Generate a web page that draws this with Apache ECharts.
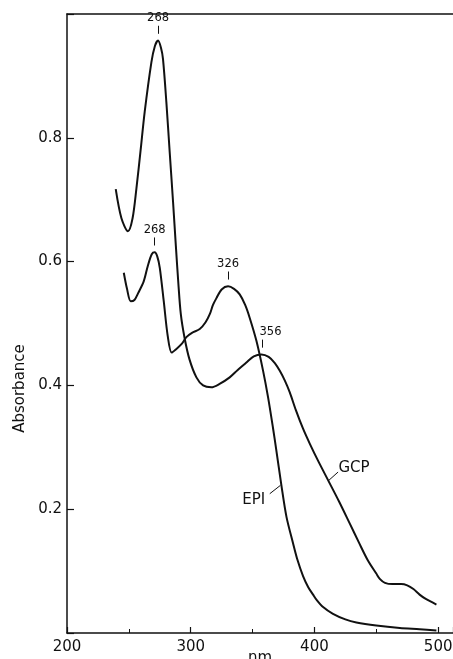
<!DOCTYPE html>
<html>
<head>
<meta charset="utf-8">
<script src="https://cdn.jsdelivr.net/npm/echarts@6/dist/echarts.min.js"></script>
<style>
html,body{margin:0;padding:0;background:#fff;}
#c{width:453px;height:659px;}
</style>
</head>
<body>
<div id="c"></div>
<script>
// wavelength (nm), absorbance
var gcpData = [
  [239.4,0.717],[244,0.670],[249.3,0.649],[253,0.670],[256.1,0.718],[259.5,0.780],
  [262.8,0.842],[268.2,0.922],[271,0.948],[273.6,0.957],[276,0.945],[277.6,0.927],
  [280.3,0.858],[283,0.777],[285.7,0.697],[288,0.625],[290,0.565],[292,0.515],
  [295,0.477],[299,0.442],[304.6,0.413],[310,0.400],[316.7,0.397],[323,0.402],
  [331.5,0.413],[338,0.425],[345,0.437],[351,0.447],[357.2,0.450],[363,0.446],
  [368,0.436],[372,0.4235],[376,0.408],[380,0.389],[385,0.360],[390.8,0.330],
  [396.2,0.306],[403,0.278],[411,0.247],[420,0.212],[428.5,0.177],[436,0.146],
  [443,0.118],[450,0.096],[453,0.087],[457,0.081],[463,0.079],[470,0.079],
  [475,0.077],[480,0.071],[485,0.062],[490,0.055],[498.6,0.046]
];
var epiData = [
  [245.9,0.582],[248.5,0.556],[251.5,0.536],[254.5,0.538],[257.5,0.549],[262,0.568],
  [265.3,0.593],[268.5,0.612],[270.9,0.615],[273,0.608],[275,0.590],[278.2,0.536],
  [281.4,0.480],[284.6,0.453],[287.9,0.458],[292.7,0.467],[296.5,0.478],[301,0.485],
  [307.3,0.491],[312,0.502],[315.4,0.515],[318,0.530],[320.8,0.541],[325,0.555],
  [330.2,0.560],[335,0.556],[339.6,0.547],[344,0.530],[347.7,0.509],[353.1,0.472],
  [358.5,0.4235],[362.5,0.381],[366.6,0.330],[369,0.298],[373.3,0.2385],[377.4,0.1876],
  [382.7,0.145],[386,0.120],[390.8,0.092],[395,0.074],[398.9,0.062],[401.6,0.054],
  [407,0.042],[415,0.031],[425,0.022],[433.9,0.017],[450,0.012],[469,0.008],
  [485,0.006],[498.6,0.004]
];
var yTickLabels = ['0.2','0.4','0.6','0.8'];
// peak annotations: [x, peak absorbance, label, label x]
var gcpPeaks = [[273.6,0.957,'268',273.6],[358,0.450,'356',364.5]];
var epiPeaks = [[270.9,0.615,'268',270.9],[330.2,0.560,'326',330.2]];

function peakLines(peaks){
  return peaks.map(function(p){
    return [{coord:[p[0],p[1]+0.011],symbol:'none'},{coord:[p[0],p[1]+0.024],symbol:'none'}];
  });
}
function peakTexts(peaks){
  return peaks.map(function(p){
    return {coord:[p[3],p[1]+0.036],value:p[2]};
  });
}
var ink = '#111';
var chart = echarts.init(document.getElementById('c'), null, {renderer:'canvas'});
var lineStyle = {color:ink,width:2};
chart.setOption({
  backgroundColor:'#fff',
  animation:false,
  grid:{left:67,right:0,top:14,bottom:26,containLabel:false,outerBoundsMode:'none'},
  xAxis:[{
    type:'value',min:200,max:512,interval:100,
    name:'nm',nameLocation:'middle',nameGap:18,nameMoveOverlap:false,
    nameTextStyle:{fontFamily:'DejaVu Sans',fontSize:15,color:ink,verticalAlign:'top'},
    axisLine:{show:true,lineStyle:{color:ink,width:1.5}},
    axisTick:{show:true,inside:true,length:6,lineStyle:{color:ink,width:1.2}},
    minorTick:{show:true,splitNumber:2,length:4,lineStyle:{color:ink,width:1}},
    axisLabel:{fontFamily:'DejaVu Sans',fontSize:15,color:ink,margin:7,
      formatter:function(v){return (v%100===0)?String(v):'';}},
    splitLine:{show:false}
  },{
    type:'value',position:'top',min:200,max:512,
    axisLine:{show:true,lineStyle:{color:ink,width:1.5}},
    axisTick:{show:false},axisLabel:{show:false},splitLine:{show:false}
  }],
  yAxis:{
    type:'value',min:0,max:1.0,interval:0.2,
    name:'Absorbance',nameLocation:'middle',nameGap:32,nameRotate:90,
    nameTextStyle:{fontFamily:'DejaVu Sans',fontSize:15,color:ink,padding:[0,130,0,0]},
    axisLine:{show:true,lineStyle:{color:ink,width:1.5}},
    axisTick:{show:true,inside:true,length:7,lineStyle:{color:ink,width:1.2}},
    axisLabel:{fontFamily:'DejaVu Sans',fontSize:15,color:ink,margin:5,
      formatter:function(v){var s=v.toFixed(1);return yTickLabels.indexOf(s)>=0?s:'';}},
    splitLine:{show:false}
  },
  series:[{
    name:'GCP',type:'line',data:gcpData,smooth:0.3,symbol:'none',lineStyle:lineStyle,
    markLine:{silent:true,symbol:'none',label:{show:false},lineStyle:{color:ink,width:1,type:'solid'},
      data:peakLines(gcpPeaks).concat([[{coord:[419.1,0.260],symbol:'none'},{coord:[411,0.2455],symbol:'none'}]])},
    markPoint:{silent:true,symbol:'rect',symbolSize:1,itemStyle:{color:'rgba(0,0,0,0)'},
      label:{show:true,position:'inside',color:ink,fontFamily:'DejaVu Sans',fontSize:11.5,formatter:'{c}'},
      data:peakTexts(gcpPeaks).concat([{coord:[432,0.266],value:'GCP',label:{fontSize:15}}])}
  },{
    name:'EPI',type:'line',data:epiData,smooth:0.3,symbol:'none',lineStyle:lineStyle,
    markLine:{silent:true,symbol:'none',label:{show:false},lineStyle:{color:ink,width:1,type:'solid'},
      data:peakLines(epiPeaks).concat([[{coord:[363.9,0.225],symbol:'none'},{coord:[372.5,0.2385],symbol:'none'}]])},
    markPoint:{silent:true,symbol:'rect',symbolSize:1,itemStyle:{color:'rgba(0,0,0,0)'},
      label:{show:true,position:'inside',color:ink,fontFamily:'DejaVu Sans',fontSize:11.5,formatter:'{c}'},
      data:peakTexts(epiPeaks).concat([{coord:[351,0.214],value:'EPI',label:{fontSize:15}}])}
  }]
});
</script>
</body>
</html>
